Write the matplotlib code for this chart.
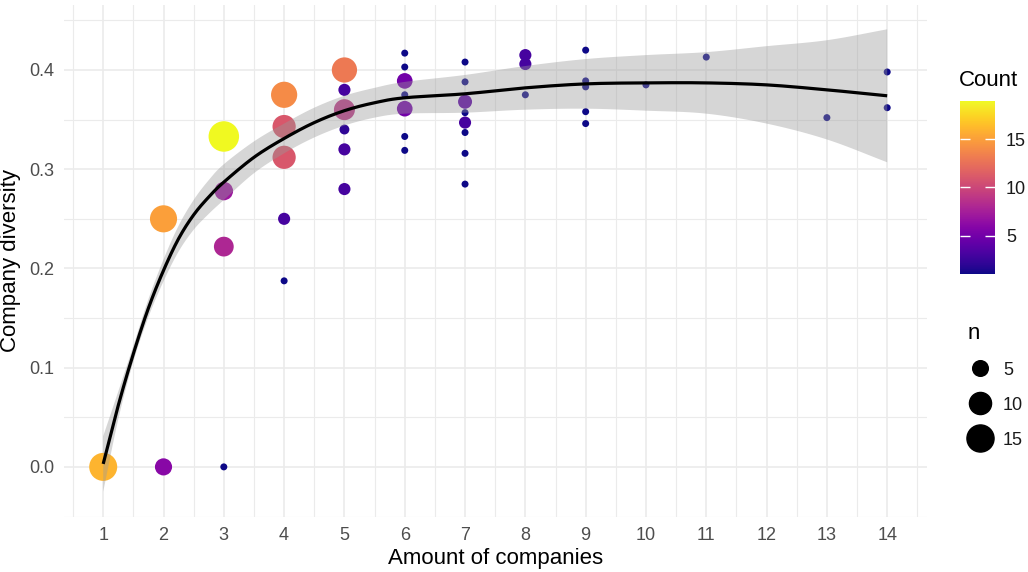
import numpy as np
import matplotlib
matplotlib.use("Agg")
import matplotlib.pyplot as plt
from matplotlib.colors import Normalize
from matplotlib.lines import Line2D

plt.rcParams['font.family'] = ['Liberation Sans', 'DejaVu Sans']

# aggregated observations: companies, diversity, number of rows at that spot
companies = [1, 2, 2, 3, 3, 3, 3, 4, 4, 4, 4, 4,
             5, 5, 5, 5, 5, 5,
             6, 6, 6, 6, 6, 6, 6,
             7, 7, 7, 7, 7, 7, 7, 7,
             8, 8, 8,
             9, 9, 9, 9, 9,
             10, 11, 13, 14, 14]
diversity = [0.0, 0.25, 0.0, 0.333, 0.278, 0.222, 0.0, 0.375, 0.343, 0.312, 0.25, 0.1875,
             0.40, 0.38, 0.36, 0.34, 0.32, 0.28,
             0.417, 0.403, 0.389, 0.375, 0.361, 0.333, 0.319,
             0.408, 0.388, 0.368, 0.357, 0.347, 0.337, 0.316, 0.285,
             0.415, 0.406, 0.375,
             0.42, 0.389, 0.383, 0.358, 0.346,
             0.385, 0.413, 0.352, 0.398, 0.362]
counts = [16, 15, 6, 19, 7, 8, 1, 14, 11, 11, 3, 1,
          13, 3, 9, 2, 3, 3,
          1, 1, 5, 1, 5, 1, 1,
          1, 1, 4, 1, 3, 1, 1, 1,
          3, 3, 1,
          1, 1, 1, 1, 1,
          1, 1, 1, 1, 1]

# loess trend with its confidence band
trend_x = [1, 1.25, 1.5, 1.75, 2, 2.25, 2.5, 2.75, 3, 3.5, 4, 4.5, 5, 5.5,
           6, 7, 8, 9, 10, 11, 12, 13, 14]
trend_y = [0.003, 0.062, 0.114, 0.160, 0.198, 0.230, 0.254, 0.272, 0.287, 0.312,
           0.331, 0.347, 0.359, 0.367, 0.372, 0.376, 0.382, 0.386, 0.387, 0.387,
           0.385, 0.380, 0.374]
trend_se = [0.028, 0.014, 0.008, 0.009, 0.011, 0.013, 0.015, 0.017, 0.018, 0.016,
            0.015, 0.015, 0.015, 0.015, 0.016, 0.019, 0.022, 0.025, 0.028, 0.031,
            0.039, 0.050, 0.067]

size_breaks = [5, 10, 15]
color_breaks = [5, 10, 15]


def marker_area(n):
    return 25.4 * np.asarray(n, dtype=float)


def catmull_rom(xs, ys, steps=12):
    # smooth path through the given knots (uniform Catmull-Rom)
    xs = np.asarray(xs, float)
    ys = np.asarray(ys, float)
    px = np.concatenate([[2 * xs[0] - xs[1]], xs, [2 * xs[-1] - xs[-2]]])
    py = np.concatenate([[2 * ys[0] - ys[1]], ys, [2 * ys[-1] - ys[-2]]])
    out_x, out_y = [], []
    t = np.linspace(0, 1, steps, endpoint=False)
    for i in range(1, len(px) - 2):
        for arr, out in ((px, out_x), (py, out_y)):
            p0, p1, p2, p3 = arr[i - 1], arr[i], arr[i + 1], arr[i + 2]
            out.extend(0.5 * (2 * p1 + (-p0 + p2) * t
                              + (2 * p0 - 5 * p1 + 4 * p2 - p3) * t ** 2
                              + (-p0 + 3 * p1 - 3 * p2 + p3) * t ** 3))
    out_x.append(xs[-1])
    out_y.append(ys[-1])
    return np.array(out_x), np.array(out_y)


fig = plt.figure(figsize=(10.28, 5.72), dpi=100)
ax = fig.add_axes([64 / 1028, 1 - 517 / 572, 863 / 1028, 512 / 572])

norm = Normalize(vmin=1, vmax=19)
cmap = plt.get_cmap('plasma')

sc = ax.scatter(companies, diversity, s=marker_area(counts), c=counts,
                cmap=cmap, norm=norm, linewidths=0, zorder=2)

lower = np.array(trend_y) - np.array(trend_se)
upper = np.array(trend_y) + np.array(trend_se)
lx, ly = catmull_rom(trend_x, lower)
ux, uy = catmull_rom(trend_x, upper)
cx, cy = catmull_rom(trend_x, trend_y)
ax.fill(np.concatenate([ux, lx[::-1]]), np.concatenate([uy, ly[::-1]]),
        color='#999999', alpha=0.4, linewidth=0, zorder=3)
ax.plot(cx, cy, color='black', lw=2.3, zorder=4, solid_capstyle='butt')

ax.set_xlim(0.35, 14.66)
ax.set_ylim(-0.0505, 0.4655)
ax.set_xticks(range(1, 15))
ax.set_xticks(np.arange(0.5, 15, 1.0), minor=True)
ax.set_yticks([0.0, 0.1, 0.2, 0.3, 0.4])
ax.set_yticklabels(['0.0', '0.1', '0.2', '0.3', '0.4'])
ax.set_yticks(np.arange(-0.05, 0.47, 0.1), minor=True)
ax.grid(True, which='major', color='#ebebeb', lw=1.2, zorder=0)
ax.grid(True, which='minor', color='#ebebeb', lw=0.8, zorder=0)
ax.set_axisbelow(True)
for s in ax.spines.values():
    s.set_visible(False)
ax.tick_params(which='both', length=0)
ax.tick_params(axis='both', labelsize=13, labelcolor='#4d4d4d', pad=7)

ax.set_xlabel('Amount of companies', fontsize=16, labelpad=3)
ax.set_ylabel('Company diversity', fontsize=16, labelpad=6)

# colour legend
cax = fig.add_axes([960 / 1028, 1 - 274 / 572, 35 / 1028, 173 / 572])
cb = fig.colorbar(sc, cax=cax, ticks=color_breaks)
cb.outline.set_visible(False)
cax.tick_params(which='both', direction='in', length=7, width=1,
                color='white', labelsize=13, labelcolor='#1a1a1a', pad=8)
cax.yaxis.set_ticks_position('both')
cax.tick_params(labelleft=False, labelright=True)
fig.text(959 / 1028, 1 - 80 / 572, 'Count', fontsize=16, va='center', ha='left')

# size legend
handles = [Line2D([], [], ls='none', marker='o', color='black',
                  markersize=5.04 * np.sqrt(b)) for b in size_breaks]
leg = fig.legend(handles, [str(b) for b in size_breaks], title='n',
                 loc='upper left', bbox_to_anchor=(955 / 1028, 1 - 310 / 572),
                 frameon=False, fontsize=13, title_fontsize=16,
                 alignment='left', handlelength=1.4, handletextpad=0.55,
                 labelspacing=1.0, borderpad=0.2)
for t in leg.get_texts():
    t.set_color('#1a1a1a')

fig.savefig('out.png', dpi=100, facecolor='white')
